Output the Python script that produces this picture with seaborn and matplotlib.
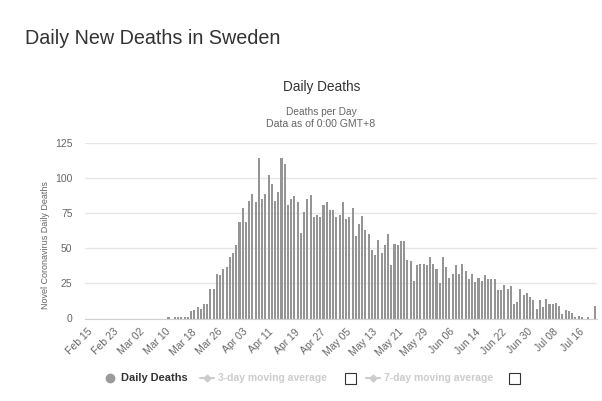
import pandas as pd
import matplotlib.pyplot as plt
import seaborn as sns
from matplotlib.lines import Line2D
from matplotlib.patches import Rectangle

# daily deaths, Feb 15 .. Jul 21 2020
start_date = "2020-02-15"
early = [0] * 25 + [1, 0, 1, 1, 1, 1, 1]
mar18_apr17 = [5, 6, 8, 7, 10, 10, 21, 21, 32, 31, 35, 37, 44, 47, 52, 69, 79, 69,
               84, 89, 83, 114, 85, 89, 102, 96, 84, 90, 114, 110, 81]
apr18_may17 = [85, 87, 83, 61, 76, 85, 88, 72, 74, 72, 81, 83, 77, 77, 72, 74, 83,
               71, 72, 79, 59, 67, 73, 63, 60, 49, 45, 56, 47, 52]
may18_jun18 = [60, 38, 53, 52, 55, 55, 42, 41, 27, 38, 39, 39, 38, 44, 39, 35, 25,
               44, 37, 29, 32, 38, 32, 39, 34, 28, 32, 26, 29, 27, 31, 28]
jun19_jul21 = [28, 28, 20, 20, 24, 21, 23, 10, 12, 21, 17, 18, 15, 13, 7, 13, 8, 14,
               10, 10, 11, 9, 3, 6, 5, 4, 1, 2, 1, 0, 1, 0, 9]

deaths = early + mar18_apr17 + apr18_may17 + may18_jun18 + jun19_jul21
dates = pd.date_range(start_date, periods=len(deaths))
labels = dates.strftime("%b %d")
df = pd.DataFrame({"date": labels, "deaths": deaths})

sns.set_style("white")
plt.rcParams["font.family"] = ["Liberation Sans", "DejaVu Sans"]

fig = plt.figure(figsize=(6.02, 4.01), dpi=100)
ax = fig.add_axes([85 / 602, 1 - 318.5 / 401, 512 / 602, 175.5 / 401])

sns.barplot(data=df, x="date", y="deaths", color="#959595", saturation=1,
            width=0.64, linewidth=0, ax=ax)
for bar in ax.patches:
    bar.set_antialiased(False)

ax.set_ylim(0, 125)
ax.set_xlim(-0.85, len(deaths) - 0.3)
ax.set_yticks([0, 25, 50, 75, 100, 125])
ax.yaxis.grid(True, color="#e6e6e6", linewidth=1)
ax.set_axisbelow(True)
for s in ["top", "right", "left"]:
    ax.spines[s].set_visible(False)
ax.spines["bottom"].set_color("#cfcfcf")

tick_pos = list(range(0, len(deaths), 8))
ax.set_xticks(tick_pos)
ax.set_xticklabels([labels[i] for i in tick_pos], rotation=45, ha="right",
                   va="top", rotation_mode="anchor")
ax.tick_params(axis="x", length=0, pad=6, labelsize=7.5, labelcolor="#666666")
ax.tick_params(axis="y", length=0, pad=9, labelsize=7.5, labelcolor="#666666")
ax.set_xlabel("")
ax.set_ylabel("Novel Coronavirus Daily Deaths", fontsize=6.5, color="#666666")
ax.yaxis.set_label_coords(-35 / 512, 0.42)

fig.text(25 / 602, 1 - 38 / 401, "Daily New Deaths in Sweden", fontsize=14.2,
         color="#333333", va="center", ha="left")
fig.text(322 / 602, 1 - 87 / 401, "Daily Deaths", fontsize=9.8,
         color="#333333", va="center", ha="center")
fig.text(321 / 602, 1 - 112 / 401, "Deaths per Day", fontsize=7.3,
         color="#666666", va="center", ha="center")
fig.text(321 / 602, 1 - 124 / 401, "Data as of 0:00 GMT+8", fontsize=7.6,
         color="#666666", va="center", ha="center")

# legend row
ly = 1 - 378 / 401
fig.add_artist(Line2D([110 / 602], [ly], marker="o", markersize=6,
                      color="#9a9a9a", linestyle="none"))
fig.text(121 / 602, ly, "Daily Deaths", fontsize=7.9, fontweight="bold",
         color="#333333", va="center")
for x0, txt, box in [(200, "3-day moving average", 350), (366, "7-day moving average", 514)]:
    fig.add_artist(Line2D([x0 / 602, (x0 + 14) / 602], [ly, ly], color="#cccccc",
                          linewidth=1.5))
    fig.add_artist(Line2D([(x0 + 7) / 602], [ly], marker="D", markersize=3.5,
                          color="#cccccc", linestyle="none"))
    fig.text((x0 + 18) / 602, ly, txt, fontsize=7.5, fontweight="bold",
             color="#cccccc", va="center")
    fig.add_artist(Rectangle(((box - 5) / 602, ly - 5.5 / 401), 11 / 602, 11 / 401,
                             fill=False, edgecolor="#333333", linewidth=0.8))

fig.savefig("out.png", dpi=100)
